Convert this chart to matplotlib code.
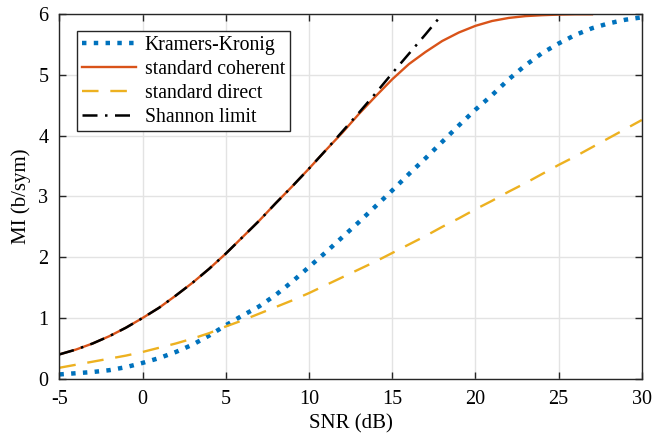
import matplotlib
matplotlib.use('Agg')
from matplotlib import pyplot as plt

# SNR axis (dB)
snr = [-5, -4, -3, -2, -1, 0, 1, 2, 3, 4, 5, 6, 7, 8, 9, 10, 11, 12, 13, 14, 15,
       16, 17, 18, 19, 20, 21, 22, 23, 24, 25, 26, 27, 28, 29, 30]

# MI curves (b/sym)
kk = [0.07, 0.09, 0.11, 0.14, 0.19, 0.26, 0.34, 0.44, 0.56, 0.71, 0.88, 1.04, 1.19,
      1.38, 1.60, 1.84, 2.08, 2.33, 2.58, 2.84, 3.10, 3.37, 3.63, 3.90, 4.17, 4.43,
      4.67, 4.93, 5.16, 5.36, 5.52, 5.66, 5.77, 5.85, 5.91, 5.95]
direct = [0.18, 0.23, 0.28, 0.33, 0.38, 0.44, 0.51, 0.58, 0.66, 0.75, 0.86, 0.96,
          1.07, 1.18, 1.29, 1.41, 1.54, 1.67, 1.80, 1.93, 2.07, 2.21, 2.35, 2.50,
          2.64, 2.79, 2.93, 3.08, 3.22, 3.37, 3.52, 3.66, 3.81, 3.96, 4.11, 4.26]

snr_coh = snr[:33]  # coherent curve stops at 27 dB
coherent = [0.40, 0.48, 0.58, 0.70, 0.84, 1.00, 1.17, 1.37, 1.58, 1.81, 2.06, 2.33,
            2.60, 2.89, 3.17, 3.46, 3.76, 4.05, 4.36, 4.65, 4.93, 5.18, 5.38, 5.56,
            5.70, 5.81, 5.89, 5.94, 5.97, 5.985, 5.995, 6.00, 6.00]

snr_sh = [-5, -4, -3, -2, -1, 0, 1, 2, 3, 4, 5, 6, 7, 8, 9, 10, 11, 12, 13, 14, 15,
          16, 17, 18]
shannon = [0.40, 0.48, 0.58, 0.70, 0.84, 1.00, 1.17, 1.37, 1.58, 1.81, 2.06, 2.33,
           2.60, 2.89, 3.17, 3.46, 3.76, 4.07, 4.38, 4.70, 5.03, 5.35, 5.67, 6.00]

plt.rcParams['font.family'] = ['Liberation Serif', 'DejaVu Serif']
plt.rcParams['axes.unicode_minus'] = False

fig = plt.figure(figsize=(6.55, 4.41), dpi=100)
ax = fig.add_axes([0.0907, 0.1413, 0.8893, 0.8263])

ax.plot(snr, kk, color='#0072BD', linestyle=':', linewidth=3.2, label='Kramers-Kronig')
ax.plot(snr_coh, coherent, color='#D95319', linewidth=1.7, label='standard coherent')
ax.plot(snr, direct, color='#EDB120', linewidth=1.7, dashes=(7, 5), label='standard direct')
ax.plot(snr_sh, shannon, color='black', linewidth=1.8, dashes=(6, 3, 1, 3), label='Shannon limit')

ax.set_xlim(-5, 30)
ax.set_ylim(0, 6)
ax.set_xticks(range(-5, 31, 5))
ax.set_yticks(range(0, 7))
ax.grid(True, color='#e3e3e3', linewidth=1)
ax.set_axisbelow(True)
ax.tick_params(direction='in', top=True, right=True, length=5, width=1,
               labelsize=14.5, color='#262626', pad=8)
for s in ax.spines.values():
    s.set_color('#262626')
    s.set_linewidth(1)

ax.set_xlabel('SNR (dB)', fontsize=15, labelpad=4)
ax.set_ylabel('MI (b/sym)', fontsize=15, labelpad=5)

leg = ax.legend(loc='upper left', bbox_to_anchor=(0.031, 0.953), fontsize=14.2,
                handlelength=2.7, fancybox=False, framealpha=1, edgecolor='#262626',
                borderaxespad=0, labelspacing=0.24, borderpad=0.25, handletextpad=0.45)
leg.get_frame().set_linewidth(1)

fig.savefig('out.png', dpi=100)
